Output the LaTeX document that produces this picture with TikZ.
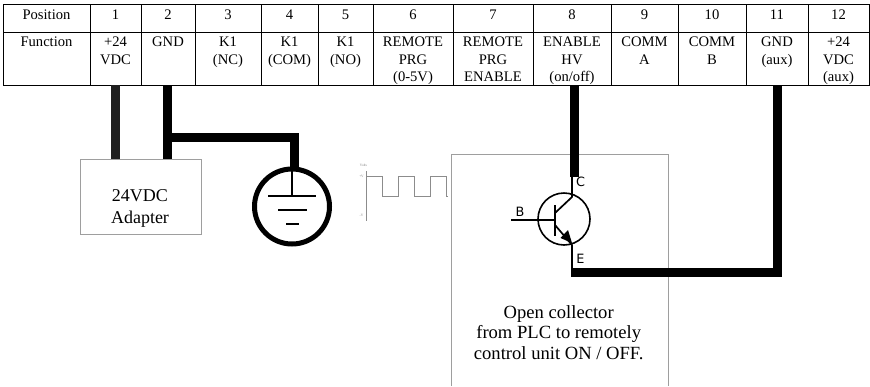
\documentclass[tikz,border=0pt]{standalone}
\usepackage{fontspec}
\setmainfont{Liberation Serif}
\newfontfamily\tsans{DejaVu Sans}
\usetikzlibrary{arrows.meta}
\definecolor{boxgray}{gray}{0.62}
\definecolor{wire}{gray}{0.0}
\definecolor{wiresoft}{gray}{0.12}
\tikzset{
  x=1pt,y=-1pt,
  cell/.style={draw=black,line width=0.9pt,inner sep=0pt,outer sep=0pt,align=center,anchor=north west},
  celltext/.style={font=\fontsize{14.6}{17.2}\selectfont,align=center,inner sep=0pt},
  wirestyle/.style={draw=wire,line width=9pt},
  softwire/.style={draw=wiresoft,line width=9pt},
  thin line/.style={draw=black,line width=1.7pt},
  graybox/.style={draw=boxgray,line width=0.9pt},
  pulse/.style={draw=gray!90,line width=0.8pt},
  pin/.style={font=\tsans\fontsize{12.8}{13}\selectfont,inner sep=0pt},
  tiny/.style={font=\fontsize{3.5}{4}\selectfont,text=gray,inner sep=0pt}
}
\begin{document}
\begin{tikzpicture}
\useasboundingbox (0,0) rectangle (870,386);
% table
\foreach \n/\xa/\xb/\top/\bot in {a0/3/90/Position/Function,a1/90/141/1/{+24\\VDC},a2/141/195/2/GND,a3/195/261/3/{K1\\(NC)},a4/261/318/4/{K1\\(COM)},a5/318/373/5/{K1\\(NO)},a6/373/453/6/{REMOTE\\PRG\\(0-5V)},a7/453/533/7/{REMOTE\\PRG\\ENABLE},a8/533/611/8/{ENABLE\\HV\\(on/off)},a9/611/678/9/{COMM\\A},a10/678/746/10/{COMM\\B},a11/746/808/11/{GND\\(aux)},a12/808/869/12/{+24\\VDC\\(aux)}}{
  \pgfmathsetmacro{\w}{\xb-\xa}
  \node[cell,minimum width=\w pt,minimum height=28pt] (p\n) at (\xa,4) {};
  \node[cell,minimum width=\w pt,minimum height=53pt] (f\n) at (\xa,32) {};
  \node[celltext,anchor=center] (pt\n) at (\xa/2+\xb/2,14.5) {\top};
  \node[celltext,anchor=north] (ft\n) at (\xa/2+\xb/2,37) {\bot};
}
% adapter
\node[graybox,draw,minimum width=121pt,minimum height=75pt,inner sep=0pt] (adapter) at (140.5,196.5) {};
\node[font=\fontsize{18}{22}\selectfont,align=center,inner sep=0pt] (adaptertext) at (140,208.5) {24VDC\\Adapter};
% ground
\node[draw=black,line width=5pt,circle,minimum size=75pt,inner sep=0pt] (gnd) at (292,206.5) {};
\coordinate (gtop) at (292,170);
\coordinate (gbar) at (292,196);
\draw[thin line] (gtop) -- (gbar);
\coordinate (b1l) at (268,196); \coordinate (b1r) at (316,196);
\coordinate (b2l) at (278,210); \coordinate (b2r) at (307,210);
\coordinate (b3l) at (286,224); \coordinate (b3r) at (299,224);
\draw[thin line] (b1l) -- (b1r);
\draw[thin line] (b2l) -- (b2r);
\draw[thin line] (b3l) -- (b3r);
% wires to adapter and ground
\draw[softwire] (fa1.south -| 115.5,0) -- (115.5,159);
\draw[wirestyle] (fa2.south -| 167.5,0) -- (167.5,159);
\coordinate (gw) at (167.5,137.5);
\coordinate (gk) at (294,137.5);
\draw[wirestyle] (gw) -- (gk) -- (294,168);
% PLC box
\coordinate (pa) at (451,386); \coordinate (pb) at (451,154); \coordinate (pc) at (668,154); \coordinate (pd) at (668,386);
\draw[graybox] (pa) -- (pb) -- (pc) -- (pd);
\node[font=\fontsize{18.6}{20.8}\selectfont,align=center,inner sep=0pt] (plc) at (558.7,332.5) {Open collector\\from PLC to remotely\\control unit ON / OFF.};
% pulse
\coordinate (ax1) at (366,171); \coordinate (ax2) at (366,221);
\draw[pulse] (ax1) -- (ax2);
\draw[pulse] (366,196) -- (366,176) -- (382,176) -- (382,196) -- (398,196) -- (398,176) -- (414,176) -- (414,196) -- (430,196) -- (430,176) -- (446,176) -- (446,196) -- (448,196);
\node[tiny] (volts) at (363.5,165.5) {Volts};
\node[tiny] (vp) at (361.5,176.5) {+V};
\node[tiny] (vn) at (361.5,215.5) {-V};
% transistor
\node[draw=black,line width=1.6pt,circle,minimum size=52pt,inner sep=0pt] (q) at (564,219) {};
\coordinate (bl) at (511,220); \coordinate (bb) at (555,220);
\draw[thin line] (bl) -- (bb);
\draw[thin line] (555,205) -- (555,236);
\coordinate (cin) at (555,213); \coordinate (ckn) at (572,197); \coordinate (cend) at (572,177);
\draw[thin line] (cin) -- (ckn) -- (cend);
\coordinate (ein) at (555,225); \coordinate (ekn) at (572,245); \coordinate (eend) at (572,268);
\draw[thin line] (ein) -- (ekn) -- (eend);
\fill[black] (572,243) -- (560.5,238) -- (568,230) -- cycle;
\node[pin] (lc) at (580.5,182) {C};
\node[pin] (lb) at (520,212) {B};
\node[pin] (le) at (580.5,259) {E};
% signal wires
\draw[wirestyle] (fa8.south -| 574.5,0) -- (574.5,177);
\draw[wirestyle] (fa11.south -| 777.5,0) -- (777.5,272.5) -- (570.5,272.5);
\end{tikzpicture}
\end{document}
